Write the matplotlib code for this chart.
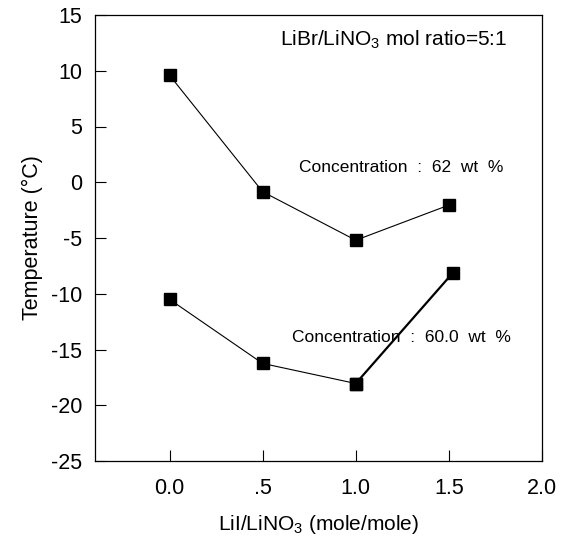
import matplotlib
matplotlib.use("Agg")
import matplotlib.pyplot as plt

plt.rcParams['font.family'] = ['Liberation Sans', 'DejaVu Sans']
plt.rcParams['mathtext.fontset'] = 'custom'
plt.rcParams['mathtext.rm'] = 'Liberation Sans'
plt.rcParams['mathtext.it'] = 'Liberation Sans'
plt.rcParams['axes.unicode_minus'] = False

ratio = [0.0, 0.5, 1.0, 1.5]
ratio_60 = [0.0, 0.5, 1.0, 1.52]
temp_62 = [9.6, -0.85, -5.2, -2.05]
temp_60 = [-10.5, -16.25, -18.05, -8.15]

xticks = [0.0, 0.5, 1.0, 1.5, 2.0]
xticklabels = ["0.0", ".5", "1.0", "1.5", "2.0"]
yticks = [15, 10, 5, 0, -5, -10, -15, -20, -25]

fig = plt.figure(figsize=(5.69, 5.42), dpi=100)
ax = fig.add_axes([95/569, 1 - 461/542, (542-95)/569, (461-15)/542])

mk = dict(marker='s', ms=8, mfc='black', mec='black')
ax.plot(ratio, temp_62, color='black', lw=0.8, **mk)
ax.plot(ratio_60[:3], temp_60[:3], color='black', lw=0.8, **mk)
ax.plot(ratio_60[2:], temp_60[2:], color='black', lw=1.6, **mk)

ax.set_xlim(-0.4, 2.0)
ax.set_ylim(-25, 15)
ax.set_xticks(xticks)
ax.set_xticklabels(xticklabels)
ax.set_yticks(yticks)
ax.tick_params(direction='in', length=8, width=0.8, labelsize=15.5,
               top=False, right=False)
ax.tick_params(axis='y', pad=9)
ax.tick_params(axis='x', pad=12)
for s in ax.spines.values():
    s.set_linewidth(0.9)

ax.set_xlabel(r"LiI/LiNO$_3$ (mole/mole)", fontsize=15, labelpad=10)
ax.set_ylabel("Temperature (\u00b0C)", fontsize=15.5, labelpad=6)

ax.text(0.922, 0.944, r"LiBr/LiNO$_3$ mol ratio=5:1", transform=ax.transAxes,
        ha='right', va='center', fontsize=15)
ax.text(0.913, 0.657, "Concentration  :  62  wt  %", transform=ax.transAxes,
        ha='right', va='center', fontsize=12.5)
ax.text(0.931, 0.276, "Concentration  :  60.0  wt  %", transform=ax.transAxes,
        ha='right', va='center', fontsize=12.5)

fig.savefig("out.png", dpi=100)
